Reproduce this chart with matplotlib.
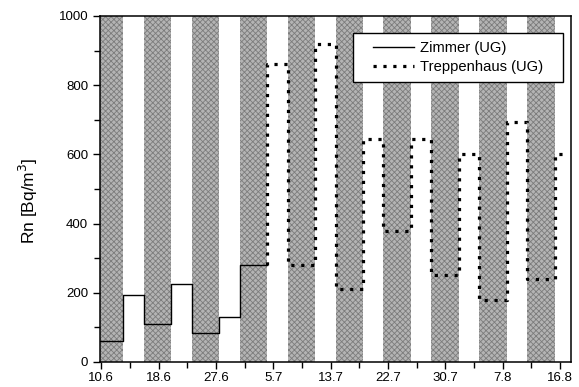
import matplotlib.pyplot as plt
from matplotlib.patches import Rectangle
import numpy as np

plt.rcParams['font.family'] = ['Liberation Sans', 'DejaVu Sans']
plt.rcParams['hatch.linewidth'] = 0.6

# x in days since 10.6
tick_days = np.linspace(0, 67, 9)
tick_labels = ['10.6', '18.6', '27.6', '5.7', '13.7', '22.7', '30.7', '7.8', '16.8']
x_min, x_max = -0.2, 68.6

# gray periods: start day of each, 4 days long
gray_starts = np.arange(-0.8, 69, 7.0)
gray_len = 4.0

# Zimmer (UG): step edges and values
zimmer_edges = [x_min, 3.2, 6.2, 10.2, 13.2, 17.2, 20.2, 24.2]
zimmer_vals = [60, 195, 110, 225, 85, 130, 280]

# Treppenhaus (UG)
trepp_start = 280
trepp_edges = [24.2, 27.2, 31.2, 34.2, 38.2, 41.2, 45.2, 48.2, 52.2, 55.2,
               59.2, 62.2, 66.2, 67.4]
trepp_vals = [862, 280, 920, 210, 645, 380, 645, 250, 600, 180, 695, 240, 600]


def steps(edges, vals):
    xs = np.repeat(edges, 2)[1:-1]
    ys = np.repeat(vals, 2)
    return xs, ys


fig = plt.figure(figsize=(5.79, 3.87), dpi=100)
ax = fig.add_axes([0.1727, 0.0646, 0.8135, 0.8941])

for s in gray_starts:
    ax.axvspan(s, s + gray_len, facecolor='#b4b4b4', edgecolor='#7c7c7c',
               hatch='xxxxxx', linewidth=0, zorder=0)

zx, zy = steps(zimmer_edges, zimmer_vals)
ax.plot(zx, zy, color='black', linewidth=1.0, label='Zimmer (UG)', zorder=3)

tx, ty = steps(trepp_edges, trepp_vals)
tx = np.concatenate([[trepp_edges[0]], tx])
ty = np.concatenate([[trepp_start], ty])
ax.plot(tx, ty, color='black', linewidth=2.3, linestyle=(0, (1.0, 2.1)),
        dash_capstyle='butt', label='Treppenhaus (UG)', zorder=3)

ax.set_xlim(x_min, x_max)
ax.set_ylim(0, 1000)
ax.set_xticks(tick_days)
ax.set_xticklabels(tick_labels)
ax.set_xticks(tick_days[:-1] + (tick_days[1] - tick_days[0]) / 2, minor=True)
ax.set_yticks(np.arange(0, 1001, 200))
ax.set_yticks(np.arange(100, 1000, 200), minor=True)
ax.tick_params(which='both', direction='out', labelsize=9.5, width=1)
ax.tick_params(which='major', length=5)
ax.tick_params(which='minor', length=4)
ax.tick_params(axis='x', pad=2)
for sp in ax.spines.values():
    sp.set_linewidth(1.1)

ax.set_ylabel('Rn [Bq/m$^3$]', fontsize=12.5)
ax.yaxis.set_label_coords(-0.127, 0.465)

# legend box drawn separately to get the wide side padding
ax.add_patch(Rectangle((0.537, 0.809), 0.446, 0.1416, transform=ax.transAxes,
                       facecolor='white', edgecolor='black', linewidth=1.0,
                       zorder=4))
leg = ax.legend(loc='center', bbox_to_anchor=(0.760, 0.880), fontsize=10.6,
                frameon=False, handlelength=2.8, handletextpad=0.35,
                labelspacing=0.37, borderpad=0, borderaxespad=0)
leg.set_zorder(5)

fig.savefig('out.png', dpi=100)
